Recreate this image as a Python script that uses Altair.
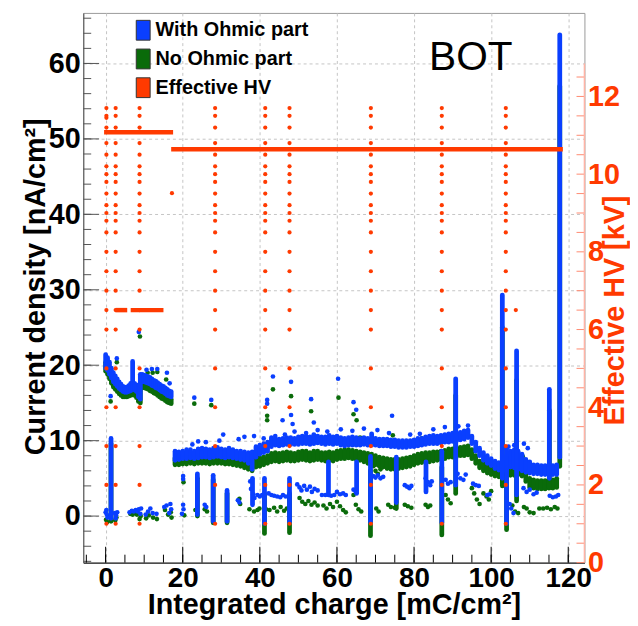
import altair as alt
import pandas as pd

FONT = "Liberation Sans"
BLUE = "#0a3fff"
GREEN = "#0a6b0a"
RED = "#ff3a00"
PINK = "#ffb4a6"
PINKTICK = "#ff8a70"
W, H = 506, 555

# ---------------- data ----------------
series_names = ["With Ohmic part", "No Ohmic part", "Effective HV"]

# dense band, first period (x 0..17)
band_a_x = [0.0, 0.5, 1.0, 1.5, 2.0, 2.5, 3.0, 3.5, 4.0, 4.5, 5.0, 5.5, 6.0, 6.5, 7.0, 7.5, 8.0,
            8.5, 9.0, 9.5, 10.0, 10.5, 11.0, 11.5, 12.0, 12.5, 13.0, 13.5, 14.0, 14.5, 15.0,
            15.5, 16.0, 16.5, 17.0]
blue_a_lo = [19.6, 19.3, 18.8, 18.3, 17.8, 17.5, 17.2, 16.9, 16.7, 16.5, 16.4, 16.4, 16.5, 16.6, 16.8,
             16.7, 16.5, 15.8, 15.5, 17.8, 17.8, 17.7, 17.6, 17.5, 17.3, 17.2, 17.0, 16.9, 16.7,
             16.5, 16.4, 16.2, 16.0, 15.9, 15.8]
blue_a_hi = [21.4, 21.0, 20.4, 19.6, 19.0, 18.6, 18.2, 17.8, 17.5, 17.2, 17.1, 17.1, 17.3, 17.6, 20.5,
             17.6, 17.4, 17.2, 18.8, 18.8, 18.7, 18.6, 18.5, 18.4, 18.2, 18.0, 17.9, 17.7, 17.5,
             17.3, 17.2, 17.0, 16.8, 16.6, 16.5]
green_a_lo = [19.2, 18.8, 18.2, 17.6, 17.1, 16.8, 16.5, 16.2, 16.0, 15.8, 15.8, 15.8, 15.9, 16.0, 16.1,
              16.0, 15.7, 15.2, 15.0, 17.0, 17.0, 16.9, 16.8, 16.6, 16.5, 16.3, 16.2, 16.0, 15.8,
              15.6, 15.5, 15.3, 15.1, 15.0, 14.9]
green_a_hi = [20.4, 20.0, 19.4, 18.6, 18.0, 17.6, 17.2, 16.9, 16.6, 16.4, 16.3, 16.4, 16.5, 16.8, 17.0,
              16.8, 16.5, 16.2, 17.4, 17.8, 17.7, 17.6, 17.5, 17.3, 17.2, 17.0, 16.9, 16.7, 16.5,
              16.3, 16.2, 16.0, 15.8, 15.6, 15.5]

# dense band, second period (x 18..117)
band_b_x = [18, 19, 20, 21, 22, 23, 24, 25, 26, 27,
            28, 29, 30, 31, 32, 33, 34, 35, 36, 37,
            38, 39, 40, 41, 42, 43, 44, 45, 46, 47,
            48, 49, 50, 51, 52, 53, 54, 55, 56, 57,
            58, 59, 60, 61, 62, 63, 64, 65, 66, 67,
            68, 69, 70, 71, 72, 73, 74, 75, 76, 77,
            78, 79, 80, 81, 82, 83, 84, 85, 86, 87,
            88, 89, 90, 91, 92, 93, 94, 95, 96, 97,
            98, 99, 100, 101, 102, 103, 104, 105, 106, 107,
            108, 109, 110, 111, 112, 113, 114, 115, 116, 117]
blue_b_lo = [7.4, 7.5, 7.6, 7.6, 7.7, 7.6, 7.7, 7.8, 7.8, 7.7,
             7.8, 7.9, 7.8, 7.7, 7.8, 7.7, 7.6, 7.5, 7.4, 7.0,
             6.2, 7.8, 8.2, 8.4, 8.6, 9.2, 9.4, 9.3, 9.4, 9.5,
             9.5, 9.5, 9.5, 9.6, 9.6, 9.5, 9.6, 9.7, 9.6, 9.5,
             9.6, 9.5, 9.6, 9.4, 9.3, 9.4, 9.4, 9.4, 9.4, 9.5,
             9.4, 9.4, 9.4, 9.3, 9.3, 9.3, 9.2, 9.2, 9.1, 9.1,
             9.1, 9.2, 9.2, 9.3, 9.4, 9.5, 9.6, 9.6, 9.6, 9.7,
             9.8, 9.8, 9.9, 10.0, 10.1, 10.2, 10.4, 9.6, 8.6, 8.0,
             7.4, 7.0, 6.7, 6.3, 6.1, 6.0, 6.2, 6.5, 6.4, 6.2,
             6.0, 5.8, 5.7, 5.6, 5.6, 5.5, 5.5, 5.5, 5.5, 5.5]
blue_b_hi = [8.6, 8.5, 8.6, 8.8, 8.8, 8.6, 8.9, 9.0, 8.9, 8.8,
             9.0, 9.1, 8.9, 8.8, 9.0, 8.8, 8.6, 8.6, 8.5, 8.4,
             8.5, 9.2, 9.4, 9.6, 9.8, 10.4, 10.3, 10.2, 10.3, 10.4,
             10.4, 10.3, 10.5, 10.6, 10.6, 10.5, 10.8, 10.6, 10.5, 10.5,
             10.7, 10.5, 10.6, 10.4, 10.3, 10.4, 10.5, 10.4, 10.3, 10.4,
             10.3, 10.9, 10.3, 10.2, 10.2, 10.2, 10.1, 10.1, 10.0, 10.0,
             10.0, 10.0, 10.1, 10.3, 10.3, 10.5, 10.6, 10.7, 10.6, 10.7,
             10.8, 10.9, 11.0, 11.0, 11.1, 11.3, 11.4, 10.6, 9.8, 9.0,
             8.4, 8.0, 7.6, 7.3, 7.1, 7.2, 8.0, 8.6, 8.8, 8.6,
             8.2, 7.5, 7.2, 6.8, 6.8, 6.7, 6.7, 6.7, 6.7, 6.8]
green_b_lo = [6.8, 6.8, 6.9, 6.9, 7.0, 6.9, 7.0, 7.0, 7.0, 6.9,
              7.0, 7.0, 7.0, 6.9, 6.9, 6.8, 6.7, 6.6, 6.4, 6.2,
              6.0, 6.5, 6.6, 6.8, 7.0, 7.2, 7.3, 7.2, 7.3, 7.4,
              7.3, 7.3, 7.4, 7.5, 7.4, 7.3, 7.4, 7.5, 7.4, 7.3,
              7.4, 7.3, 7.5, 7.6, 7.6, 7.7, 7.6, 7.5, 7.4, 7.2,
              7.0, 6.8, 6.8, 6.6, 6.5, 6.3, 6.2, 6.2, 6.3, 6.4,
              6.5, 6.6, 6.8, 7.0, 7.1, 7.2, 7.2, 7.3, 7.4, 7.5,
              7.6, 7.8, 7.8, 7.9, 8.0, 8.0, 8.1, 7.6, 7.0, 6.4,
              6.0, 5.7, 5.5, 5.3, 5.2, 5.1, 5.2, 5.4, 5.4, 5.5,
              5.3, 4.6, 3.8, 3.7, 3.6, 3.6, 3.6, 3.7, 3.7, 3.8]
green_b_hi = [7.7, 7.6, 7.7, 7.8, 7.8, 7.7, 7.9, 7.9, 7.8, 7.8,
              7.9, 8.0, 7.9, 7.8, 7.8, 7.7, 7.6, 7.5, 7.4, 7.3,
              7.2, 7.6, 7.7, 7.8, 8.0, 8.3, 8.4, 8.3, 8.4, 8.5,
              8.4, 8.3, 8.5, 8.6, 8.6, 8.4, 8.6, 8.6, 8.4, 8.4,
              8.5, 8.4, 8.6, 8.7, 8.8, 8.8, 8.7, 8.6, 8.5, 8.4,
              8.3, 8.2, 8.0, 7.8, 7.7, 7.6, 7.5, 7.5, 7.5, 7.6,
              7.7, 7.8, 8.0, 8.2, 8.3, 8.4, 8.4, 8.5, 8.5, 8.6,
              8.7, 8.9, 8.9, 9.0, 9.1, 9.2, 9.3, 8.8, 8.0, 7.3,
              7.0, 6.7, 6.5, 6.3, 6.2, 6.3, 6.8, 7.2, 7.6, 7.8,
              7.6, 6.2, 5.0, 4.8, 4.7, 4.7, 4.7, 4.8, 4.8, 5.0]

# vertical streaks (x, lowest, highest)
blue_streak_x = [1.4, 23.8, 27.9, 31.5, 38.1, 41.2, 47.7, 57.8, 65.1, 68.7, 75.4, 83.1,
                 87.2, 90.8, 102.9, 104.0, 106.6, 115.1, 117.8]
blue_streak_lo = [-0.3, 0.2, -0.7, -0.7, 1.5, -1.0, -0.8, 2.8, 3.0, -0.8, 1.8, 3.2,
                  -0.9, 4.1, 5.0, -1.0, 2.8, 5.0, 7.8]
blue_streak_hi = [10.3, 5.6, 5.4, 3.4, 5.0, 5.0, 5.0, 7.2, 7.2, 7.9, 7.8, 7.2,
                  8.6, 18.2, 29.3, 9.0, 21.9, 16.8, 63.8]
green_streak_x = [1.4, 23.8, 27.9, 31.5, 41.2, 47.7, 68.7, 75.4, 87.2, 90.8, 102.9,
                  104.0, 106.6, 115.1, 117.8]
green_streak_lo = [-0.7, 0.0, -0.9, -0.9, -2.3, -2.2, -2.6, 1.0, -2.5, 3.0, 4.0,
                   -1.8, 2.0, 3.8, 6.6]
green_streak_hi = [9.6, 5.0, 4.8, 3.0, 3.0, 3.0, 6.0, 6.5, 6.5, 16.0, 25.0,
                   7.0, 18.0, 14.0, 57.0]

# scattered single points
blue_pts_x = [1.3, 2.9, 8.6, 10.6, 12.0, 13.4, 15.9, 16.6,
              0.0, 0.3, 0.5, 0.2, 2.4, 2.7, 3.0, 2.6, 6.2, 6.8, 7.3, 7.8, 8.3, 8.6, 9.0, 9.2,
              10.4, 11.0, 11.6, 12.2, 13.2, 15.2, 15.8, 16.5, 16.8, 17.0,
              20.1, 20.1, 20.1, 20.2, 19.8,
              22.5, 24.0, 26.0, 29.5, 30.5, 34.5, 36.0, 38.5, 41.0, 44.0, 46.5, 49.0, 52.0,
              55.0, 57.5, 61.0, 64.0, 67.0, 70.5, 73.5, 79.0, 81.5, 85.0, 88.0, 91.5, 94.0,
              23.0, 27.4, 41.9, 41.9, 43.4, 45.9, 48.1, 48.1, 48.5, 53.3, 54.0, 60.3, 64.3,
              65.0, 74.3, 104.5, 106.0, 108.5, 109.5,
              25.7, 26.1, 34.3, 34.7, 37.5, 37.7, 38.3, 38.6, 39.4, 40.0, 40.6, 42.3, 43.0,
              43.7, 44.5, 45.3, 46.0, 46.7, 49.7, 50.3, 50.8, 51.5, 52.2, 53.0, 53.5, 54.2,
              55.0, 56.1, 57.0, 58.5, 59.3, 60.0, 60.8, 61.6, 62.3, 64.3, 64.9, 69.4, 70.0,
              70.6, 71.3, 72.0, 77.6, 78.2, 78.8, 79.3, 83.0, 83.6, 84.2, 84.6, 88.2, 88.8,
              89.5, 91.3, 92.0, 92.8, 93.4, 95.3, 96.0, 96.8, 99.0, 99.6, 104.8, 105.2,
              105.8, 108.4, 109.2, 110.0, 111.0, 111.8, 115.2, 116.0, 116.8, 117.4]
blue_pts_y = [15.9, 20.9, 24.4, 19.4, 19.5, 19.5, 19.0, 17.6,
              0.5, 0.2, -0.2, 0.8, 0.4, 0.1, 0.5, -0.3, 0.5, 0.7, 0.6, 0.8, 0.6, 0.9, 0.3, 1.0,
              0.2, 0.6, 1.0, 0.4, 0.3, 1.2, 1.4, 0.4, 1.6, 0.9,
              5.3, 4.9, 1.5, 0.9, 0.3,
              9.5, 9.9, 9.8, 10.0, 10.8, 10.2, 10.5, 10.6, 10.3, 10.6, 10.8, 11.2, 11.0,
              11.4, 11.2, 11.5, 11.3, 11.6, 11.4, 11.0, 10.8, 10.9, 11.5, 11.8, 11.9, 12.0,
              15.7, 15.4, 15.4, 14.9, 18.5, 12.7, 17.8, 13.4, 12.2, 15.5, 12.4, 18.2, 15.1,
              14.1, 13.3, 9.2, 9.4, 9.6, 9.0,
              1.5, 1.2, 2.1, 1.8, 4.6, 3.6, 2.9, 2.4, 2.8, 2.6, 2.8, 3.0, 2.8,
              2.7, 2.6, 2.5, 2.8, 2.6, 4.2, 3.8, 3.4, 4.0, 3.5, 3.9, 3.2, 3.6,
              3.4, 2.8, 2.8, 2.7, 2.8, 3.2, 2.9, 3.0, 2.8, 3.5, 3.2, 5.3, 5.1,
              5.4, 5.0, 5.2, 4.1, 3.9, 3.7, 4.0, 5.0, 4.5, 4.1, 4.6, 4.8, 4.3,
              4.5, 5.6, 5.0, 4.8, 5.5, 4.3, 4.1, 4.0, 2.8, 2.9, 1.6, 1.0,
              0.4, 3.7, 3.2, 3.5, 2.9, 3.1, 2.7, 2.5, 2.6, 2.8]

green_pts_x = [1.3, 2.9, 8.9, 10.9, 12.2, 13.4, 15.7,
               0.1, 0.4, 0.6, 2.5, 2.8, 6.4, 7.0, 7.6, 8.1, 8.8, 9.1, 10.5, 11.2, 12.3, 13.3,
               15.4, 16.2, 16.9, 17.1,
               20.2, 20.4,
               23.0, 27.4, 41.9, 41.9, 43.4, 48.1, 53.3, 60.4, 64.3, 65.1,
               60.5, 66.0, 74.5, 82.0, 45.0, 30.0,
               23.3, 25.7, 26.3, 34.7, 34.9, 37.3, 38.5, 39.4, 39.9, 41.6, 42.5, 43.7, 44.5,
               45.4, 46.3, 47.0, 50.3, 51.0, 51.8, 52.6, 53.4, 54.2, 55.0, 56.5, 57.3, 58.2,
               59.0, 60.0, 60.8, 61.6, 62.3, 64.3, 64.9, 65.6, 66.3, 69.4, 70.0, 70.6, 71.3,
               70.2, 70.8, 73.3, 74.0, 75.0, 77.6, 78.4, 79.3, 83.0, 83.6, 84.2, 88.2, 88.8,
               89.5, 95.0, 95.6, 96.3, 97.0, 98.0, 98.8, 99.4, 100.0, 105.5, 106.2, 107.0,
               108.5, 109.2, 110.0, 111.0, 112.5, 113.5, 114.5, 115.5, 116.5, 117.2,
               107.5, 108.2, 109.0, 109.6]
green_pts_y = [15.2, 20.4, 23.8, 19.0, 19.0, 19.1, 18.1,
               -0.5, -0.8, 0.0, -0.6, -0.2, 0.3, 0.2, 0.4, 0.2, -0.4, 0.0, -0.3, 0.1, -0.2, -0.4,
               0.8, 0.2, 0.5, -0.2,
               4.5, 0.1,
               14.9, 14.7, 13.3, 12.7, 16.8, 15.9, 13.9, 15.7, 13.5, 12.7,
               10.2, 10.4, 10.7, 10.3, 9.6, 8.8,
               0.8, 0.9, 0.6, 2.3, 1.6, 0.9, 0.6, 0.8, 1.0, 0.9, 0.8, 1.1, 0.6,
               1.2, 0.7, 1.0, 2.4, 1.9, 1.6, 2.0, 1.5, 1.8, 1.4, 1.4, 1.0, 1.6,
               1.2, 1.9, 1.3, 0.8, 0.5, 2.8, 1.5, 0.9, 0.6, 6.6, 6.0, 5.6, 6.2,
               1.0, 0.6, 1.5, 1.2, 1.1, 1.5, 1.3, 1.1, 1.5, 1.2, 1.4, 2.8, 2.2,
               1.7, 3.7, 3.0, 2.2, 1.6, 3.0, 2.6, 2.2, 3.3, 1.4, 0.6, 0.4,
               1.2, 1.0, 0.5, 0.4, 1.0, 1.0, 1.1, 0.9, 1.2, 1.0,
               7.6, 7.9, 7.4, 7.0]

# effective HV (right axis, kV)
hv_col_x = [0.2, 2.6, 8.8, 28.4, 41.4, 47.7, 68.8, 87.2, 103.8]
hv_levels = [1.0, 2.0, 3.0, 4.0, 5.0, 6.0, 6.5, 7.0, 7.5, 8.0, 8.5, 8.8, 9.0, 9.2, 9.5,
             9.8, 10.0, 10.2, 10.5, 10.8, 11.2, 11.5, 11.7]
hv_extra_x = [0.2, 17.2, 106.4]
hv_extra_kv = [11.45, 9.51, 6.5]
hv_seg_x1 = [-0.4, 17.0, 2.6, 6.5]
hv_seg_x2 = [17.5, 118.6, 5.6, 15.0]
hv_seg_kv = [11.08, 10.64, 6.5, 6.5]

# axis ticks / labels
x_major = [0, 20, 40, 60, 80, 100, 120]
x_minor = [-5, 0, 5, 10, 15, 20, 25, 30, 35, 40, 45, 50, 55, 60, 65, 70, 75, 80, 85, 90,
           95, 100, 105, 110, 115, 120]
yl_major = [0, 10, 20, 30, 40, 50, 60]
yl_minor = [-6, -4, -2, 0, 2, 4, 6, 8, 10, 12, 14, 16, 18, 20, 22, 24, 26, 28, 30, 32, 34,
            36, 38, 40, 42, 44, 46, 48, 50, 52, 54, 56, 58, 60, 62, 64, 66]
yr_labels = [0, 2, 4, 6, 8, 10, 12]
yr_ticks = [0, 0.5, 1, 1.5, 2, 2.5, 3, 3.5, 4, 4.5, 5, 5.5, 6, 6.5, 7, 7.5, 8, 8.5, 9, 9.5,
            10, 10.5, 11, 11.5, 12, 12.5]
yr_axis_end = 12.85

label_text = ["BOT"]
label_x = [83.9]
label_y = [59.2]

# ---------------- tables ----------------
blue_band = pd.DataFrame({"x": band_a_x + band_b_x + blue_streak_x,
                          "y": blue_a_lo + blue_b_lo + blue_streak_lo,
                          "y2": blue_a_hi + blue_b_hi + blue_streak_hi})
green_band = pd.DataFrame({"x": band_a_x + band_b_x + green_streak_x,
                           "y": green_a_lo + green_b_lo + green_streak_lo,
                           "y2": green_a_hi + green_b_hi + green_streak_hi})
blue_df = pd.DataFrame({"x": blue_pts_x, "y": blue_pts_y, "series": series_names[0]})
green_df = pd.DataFrame({"x": green_pts_x, "y": green_pts_y, "series": series_names[1]})
hv_rows = [{"x": cx, "kv": lv} for cx in hv_col_x for lv in hv_levels]
hv_rows += [{"x": ex, "kv": ek} for ex, ek in zip(hv_extra_x, hv_extra_kv)]
hv_df = pd.DataFrame(hv_rows)
hv_df["series"] = series_names[2]
hv_seg = pd.DataFrame({"x": hv_seg_x1, "x2": hv_seg_x2, "kv": hv_seg_kv})
text_df = pd.DataFrame({"x": label_x, "y": label_y, "t": label_text})

# ---------------- scales / axes ----------------
x_scale = alt.Scale(domain=[-5.8, 124.2], nice=False, zero=False)
yl_scale = alt.Scale(domain=[-6.17, 66.7], nice=False, zero=False)
yr_scale = alt.Scale(domain=[0, 14.15], nice=False, zero=False)
color_scale = alt.Scale(domain=series_names, range=[BLUE, GREEN, RED])

x_axis = alt.Axis(values=x_major, grid=True, gridDash=[3, 3], gridColor="#c4c4c4",
                  ticks=False, domainColor="black", labelFont=FONT, labelFontSize=28,
                  labelFontWeight="bold", labelColor="black", labelPadding=2,
                  labelFlush=False, labelOverlap=False,
                  title="Integrated charge [mC/cm²]", titleFont=FONT, titleFontSize=29,
                  titleFontWeight="bold", titleColor="black", titleX=W / 2, titleY=51,
                  titleAlign="center", titleBaseline="alphabetic")
yl_axis = alt.Axis(values=yl_major, grid=True, gridDash=[3, 3], gridColor="#c4c4c4",
                   ticks=False, domainColor="#555555", labelFont=FONT, labelFontSize=29,
                   labelFontWeight="bold", labelColor="black", labelPadding=3,
                   labelOverlap=False, orient="left",
                   title="Current density [nA/cm²]", titleFont=FONT, titleFontSize=29,
                   titleFontWeight="bold", titleColor="black", titleX=-39, titleY=276,
                   titleAngle=270, titleAlign="center", titleBaseline="alphabetic")
yr_axis = alt.Axis(values=yr_labels, grid=False, ticks=False, domain=False, orient="right",
                   labelFont=FONT, labelFontSize=29, labelFontWeight="bold", labelColor=RED,
                   labelPadding=3, labelOverlap=False,
                   title="Effective HV [kV]", titleFont=FONT, titleFontSize=29,
                   titleFontWeight="bold", titleColor=RED, titleX=39, titleY=300,
                   titleAngle=270, titleAlign="center", titleBaseline="alphabetic")
legend = alt.Legend(title=None, orient="none", legendX=50, legendY=7,
                    symbolType="M-0.7,-1H0.7V1H-0.7Z", symbolSize=400,
                    symbolStrokeColor="#333333", symbolStrokeWidth=1, symbolOpacity=1,
                    labelFont=FONT, labelFontSize=20, labelFontWeight="bold",
                    labelColor="black", labelOffset=2, rowPadding=4, padding=0)

X = alt.X("x:Q", scale=x_scale, axis=x_axis)
YL = alt.Y("y:Q", scale=yl_scale, axis=yl_axis)
YR = alt.Y("kv:Q", scale=yr_scale, axis=yr_axis)

# ---------------- left (current density) ----------------
yl_minor_ticks = alt.Chart(pd.DataFrame({"y": yl_minor})).mark_rule(
    color="#555555", strokeWidth=1).encode(y=YL, x=alt.value(0), x2=alt.value(8))
yl_major_ticks = alt.Chart(pd.DataFrame({"y": yl_major})).mark_rule(
    color="#555555", strokeWidth=1).encode(y=YL, x=alt.value(0), x2=alt.value(16))
x_minor_ticks = alt.Chart(pd.DataFrame({"x": x_minor})).mark_rule(
    color="black", strokeWidth=1).encode(x=X, y=alt.value(H), y2=alt.value(H - 8))
x_major_ticks = alt.Chart(pd.DataFrame({"x": x_major})).mark_rule(
    color="black", strokeWidth=1).encode(x=X, y=alt.value(H), y2=alt.value(H - 16))

green_pts = alt.Chart(green_df).mark_circle(size=22, opacity=1).encode(
    x=X, y=YL, color=alt.Color("series:N", scale=color_scale, legend=legend))
green_bands = alt.Chart(green_band).mark_rule(
    color=GREEN, strokeWidth=4.8, strokeCap="round").encode(x=X, y=YL, y2="y2:Q")
blue_pts = alt.Chart(blue_df).mark_circle(size=22, opacity=1).encode(
    x=X, y=YL, color=alt.Color("series:N", scale=color_scale, legend=legend))
blue_bands = alt.Chart(blue_band).mark_rule(
    color=BLUE, strokeWidth=4.8, strokeCap="round").encode(x=X, y=YL, y2="y2:Q")
bot = alt.Chart(text_df).mark_text(font=FONT, fontSize=41, align="left",
                                   baseline="alphabetic", color="black").encode(
    x=X, y=YL, text="t:N")

left = alt.layer(yl_minor_ticks, yl_major_ticks, x_minor_ticks, x_major_ticks,
                 green_pts, green_bands, blue_pts, blue_bands, bot)

# ---------------- right (effective HV) ----------------
yr_tick_layer = alt.Chart(pd.DataFrame({"kv": yr_ticks})).mark_rule(
    color=PINKTICK, strokeWidth=1).encode(y=YR, x=alt.value(W - 8), x2=alt.value(W))
yr_line = alt.Chart(pd.DataFrame({"kv": [0], "kv2": [yr_axis_end]})).mark_rule(
    color=PINK, strokeWidth=1.5).encode(y=YR, y2="kv2:Q", x=alt.value(W))
hv_pts = alt.Chart(hv_df).mark_circle(size=18, opacity=1).encode(
    x=X, y=YR, color=alt.Color("series:N", scale=color_scale, legend=legend))
hv_lines = alt.Chart(hv_seg).mark_rule(color=RED, strokeWidth=4.5).encode(
    x=X, x2="x2:Q", y=YR)

right = alt.layer(hv_pts, hv_lines, yr_tick_layer, yr_line)

chart = alt.layer(left, right).resolve_scale(y="independent").properties(
    width=W, height=H,
    padding={"left": 76, "top": 2, "right": 46, "bottom": 59},
    autosize=alt.AutoSizeParams(type="none"),
    background="white",
).configure_view(stroke="#9a9a9a", strokeWidth=1)

chart.save("out.html", embed_options={"renderer": "svg", "actions": False})
